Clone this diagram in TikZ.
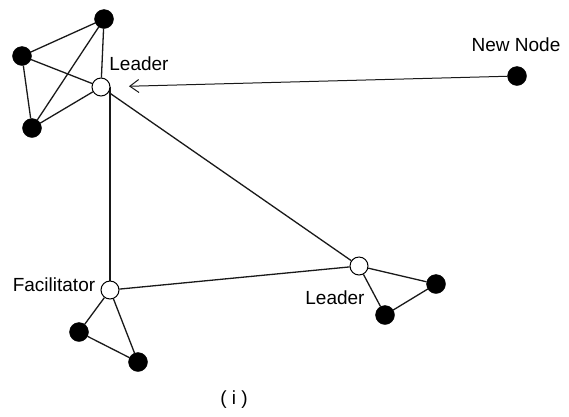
\documentclass[tikz,border=0pt]{standalone}
\usepackage{fontspec}
\setmainfont{Liberation Sans}
\usetikzlibrary{arrows.meta,backgrounds}
\begin{document}
\begin{tikzpicture}[x=1pt,y=-1pt,
  peer/.style={circle,fill=black,draw=black,inner sep=0pt,minimum size=19pt},
  hub/.style={circle,fill=white,draw=black,line width=1pt,inner sep=0pt,minimum size=18pt},
  link/.style={line width=1.3pt,black!90},
  lbl/.style={font=\fontsize{19}{21}\selectfont,inner sep=0pt,anchor=center}]
\useasboundingbox (0,0) rectangle (569,416);
% nodes
\node[hub]  (l1)  at (101,87) {};
\node[peer] (a1)  at (104,19) {};
\node[peer] (a2)  at (22,56) {};
\node[peer] (a3)  at (32,128) {};
\node[hub]  (fac) at (110,290) {};
\node[peer] (b1)  at (79,332) {};
\node[peer] (b2)  at (138,362) {};
\node[hub]  (l2)  at (359,266) {};
\node[peer] (c1)  at (436,284) {};
\node[peer] (c2)  at (385,315) {};
\node[peer] (nn)  at (517,76) {};
% labels
\node[lbl] (t1) at (139,64) {Leader};
\node[lbl] (t2) at (516,45) {New Node};
\node[lbl] (t3) at (54,285) {Facilitator};
\node[lbl] (t4) at (335,298) {Leader};
\node[lbl] (t5) at (234,400) {( i )};
% edges
\begin{scope}[on background layer]
\draw[link] (a1) -- (a2) -- (a3) -- (a1);
\draw[link] (a1) -- (l1);
\draw[link] (a2) -- (l1);
\draw[link] (a3) -- (l1);
\draw[link] (fac.center) -- (fac.center |- l1.center);
\draw[link] (l1) -- (l2);
\draw[link] (fac) -- (l2);
\draw[link] (fac) -- (b1) -- (b2) -- (fac);
\draw[link] (l2) -- (c1) -- (c2) -- (l2);
\end{scope}
\draw[link,line width=1pt,-{Straight Barb[length=9pt,width=13pt]},shorten <=10pt,shorten >=28pt] (nn.center) -- (l1.center);
\end{tikzpicture}
\end{document}
